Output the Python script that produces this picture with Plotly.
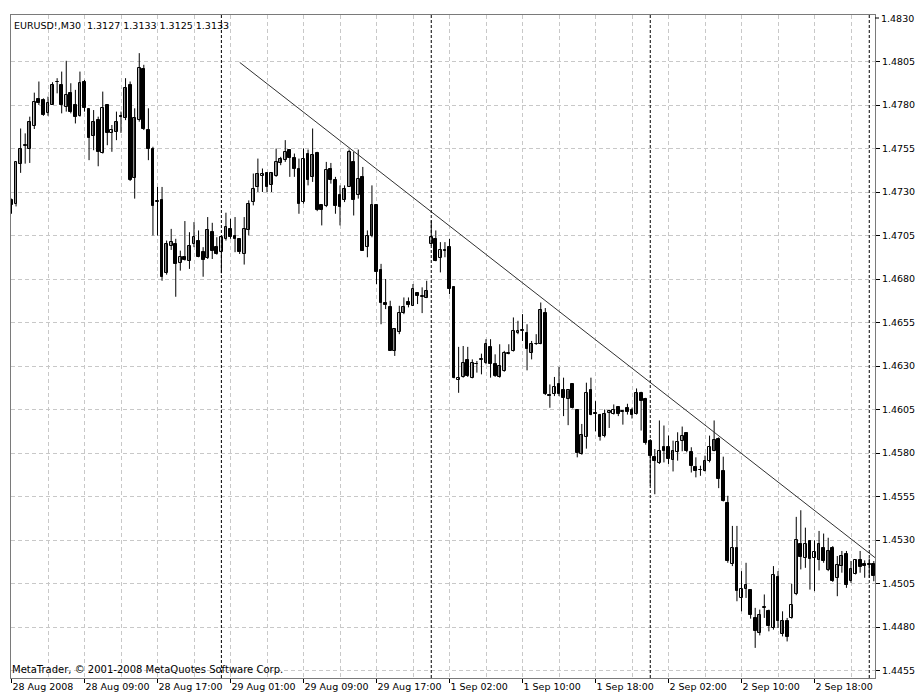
import plotly.graph_objects as go

# ---------------- data (EURUSD M30, bar index 0..189) ----------------
opens = [
    1.47252, 1.47229, 1.47463, 1.47565, 1.47550, 1.47679, 1.47833, 1.47829, 1.47752, 1.47800,
    1.47935, 1.47915, 1.47790, 1.47867, 1.47800, 1.47738, 1.47935, 1.47775, 1.47623, 1.47713,
    1.47525, 1.47800, 1.47637, 1.47646, 1.47737, 1.47723, 1.47915, 1.47383, 1.47713, 1.48006,
    1.47656, 1.47550, 1.47242, 1.47252, 1.46833, 1.46987, 1.47002, 1.46890, 1.46925, 1.46906,
    1.47002, 1.47021, 1.46954, 1.46921, 1.47069, 1.46983, 1.46954, 1.47031, 1.47088, 1.47050,
    1.47031, 1.46944, 1.47083, 1.47242, 1.47329, 1.47390, 1.47410, 1.47338, 1.47390, 1.47467,
    1.47483, 1.47544, 1.47498, 1.47435, 1.47242, 1.47521, 1.47387, 1.47525, 1.47223, 1.47217,
    1.47435, 1.47367, 1.47281, 1.47256, 1.47329, 1.47473, 1.47281, 1.47387, 1.46983, 1.47050,
    1.47223, 1.46852, 1.46660, 1.46640, 1.46387, 1.46498, 1.46602, 1.46665, 1.46646, 1.46717,
    1.46698, 1.46690, 1.47002, 1.47031, 1.46921, 1.46967, 1.46983, 1.46752, 1.46217, 1.46237,
    1.46333, 1.46233, 1.46310, 1.46333, 1.46319, 1.46410, 1.46310, 1.46237, 1.46271, 1.46367,
    1.46387, 1.46487, 1.46502, 1.46487, 1.46377, 1.46425, 1.46429, 1.46602, 1.46133, 1.46140,
    1.46198, 1.46160, 1.46108, 1.46194, 1.46046, 1.45794, 1.45890, 1.46160, 1.46031, 1.46021,
    1.45896, 1.46031, 1.46025, 1.46063, 1.46038, 1.46056, 1.46046, 1.46025, 1.46142, 1.46108,
    1.45871, 1.45775, 1.45740, 1.45833, 1.45833, 1.45760, 1.45804, 1.45871, 1.45913, 1.45804,
    1.45721, 1.45704, 1.45698, 1.45756, 1.45813, 1.45881, 1.45694, 1.45510, 1.45160, 1.45256,
    1.44967, 1.45021, 1.45010, 1.44852, 1.44765, 1.44911, 1.44894, 1.44794, 1.45087, 1.44760,
    1.44837, 1.44852, 1.44987, 1.45275, 1.45198, 1.45294, 1.45198, 1.45183, 1.45256, 1.45125,
    1.45256, 1.45079, 1.45150, 1.45221, 1.45063, 1.45106, 1.45183, 1.45160, 1.45163, 1.45160,
]
highs = [
    1.47262, 1.47473, 1.47665, 1.47637, 1.47733, 1.47871, 1.47935, 1.47838, 1.47848, 1.47931,
    1.47954, 1.47992, 1.48054, 1.47925, 1.47887, 1.47992, 1.47944, 1.47775, 1.47771, 1.47733,
    1.47877, 1.47800, 1.47685, 1.47762, 1.47762, 1.47954, 1.47935, 1.47781, 1.48098, 1.48031,
    1.47781, 1.47560, 1.47329, 1.47329, 1.47021, 1.47088, 1.47031, 1.46963, 1.47133, 1.47069,
    1.47127, 1.47079, 1.46983, 1.47156, 1.47123, 1.47040, 1.47050, 1.47181, 1.47146, 1.47156,
    1.47031, 1.47156, 1.47252, 1.47406, 1.47492, 1.47435, 1.47415, 1.47415, 1.47550, 1.47502,
    1.47598, 1.47544, 1.47521, 1.47492, 1.47550, 1.47544, 1.47665, 1.47531, 1.47223, 1.47473,
    1.47467, 1.47387, 1.47338, 1.47338, 1.47544, 1.47531, 1.47544, 1.47444, 1.47079, 1.47338,
    1.47223, 1.46887, 1.46800, 1.46675, 1.46512, 1.46646, 1.46694, 1.46694, 1.46771, 1.46723,
    1.46752, 1.46790, 1.47137, 1.47079, 1.47012, 1.47012, 1.47031, 1.46756, 1.46410, 1.46415,
    1.46410, 1.46338, 1.46329, 1.46371, 1.46454, 1.46454, 1.46367, 1.46425, 1.46387, 1.46425,
    1.46579, 1.46560, 1.46598, 1.46540, 1.46444, 1.46483, 1.46665, 1.46633, 1.46194, 1.46237,
    1.46294, 1.46233, 1.46160, 1.46194, 1.46046, 1.45967, 1.46204, 1.46233, 1.46098, 1.46025,
    1.46050, 1.46044, 1.46079, 1.46069, 1.46044, 1.46083, 1.46060, 1.46171, 1.46152, 1.46117,
    1.45880, 1.45823, 1.45987, 1.45958, 1.45900, 1.45871, 1.45919, 1.45952, 1.45919, 1.45833,
    1.45775, 1.45727, 1.45785, 1.45900, 1.45987, 1.45890, 1.45779, 1.45554, 1.45381, 1.45381,
    1.45121, 1.45169, 1.45015, 1.44910, 1.44900, 1.44987, 1.44900, 1.45150, 1.45121, 1.44890,
    1.44852, 1.45048, 1.45433, 1.45471, 1.45371, 1.45298, 1.45298, 1.45352, 1.45337, 1.45313,
    1.45265, 1.45208, 1.45237, 1.45237, 1.45179, 1.45188, 1.45237, 1.45183, 1.45194, 1.45179,
]
lows = [
    1.47175, 1.47217, 1.47410, 1.47463, 1.47467, 1.47662, 1.47800, 1.47738, 1.47738, 1.47800,
    1.47867, 1.47752, 1.47762, 1.47752, 1.47694, 1.47733, 1.47762, 1.47483, 1.47540, 1.47448,
    1.47521, 1.47569, 1.47531, 1.47598, 1.47640, 1.47713, 1.47363, 1.47262, 1.47704, 1.47656,
    1.47483, 1.47050, 1.47050, 1.46790, 1.46825, 1.46967, 1.46698, 1.46848, 1.46906, 1.46858,
    1.46983, 1.46925, 1.46813, 1.46915, 1.46915, 1.46940, 1.46833, 1.47021, 1.47031, 1.46954,
    1.46944, 1.46883, 1.47050, 1.47223, 1.47300, 1.47300, 1.47300, 1.47300, 1.47387, 1.47454,
    1.47473, 1.47387, 1.47387, 1.47175, 1.47233, 1.47338, 1.47358, 1.47190, 1.47108, 1.47213,
    1.47348, 1.47175, 1.47108, 1.47242, 1.47329, 1.47165, 1.47262, 1.46963, 1.46925, 1.47040,
    1.46771, 1.46540, 1.46627, 1.46387, 1.46358, 1.46483, 1.46598, 1.46637, 1.46646, 1.46656,
    1.46604, 1.46690, 1.46992, 1.46902, 1.46838, 1.46925, 1.46713, 1.46229, 1.46146, 1.46233,
    1.46237, 1.46229, 1.46262, 1.46252, 1.46310, 1.46233, 1.46237, 1.46233, 1.46267, 1.46367,
    1.46383, 1.46483, 1.46444, 1.46275, 1.46338, 1.46421, 1.46425, 1.46133, 1.46060, 1.46127,
    1.46127, 1.46012, 1.45960, 1.46056, 1.45775, 1.45790, 1.45825, 1.46017, 1.45925, 1.45871,
    1.45890, 1.45944, 1.46021, 1.46012, 1.45963, 1.46021, 1.45998, 1.46021, 1.45929, 1.45848,
    1.45612, 1.45563, 1.45737, 1.45746, 1.45737, 1.45694, 1.45756, 1.45810, 1.45804, 1.45688,
    1.45660, 1.45669, 1.45694, 1.45746, 1.45810, 1.45598, 1.45521, 1.45169, 1.45150, 1.44948,
    1.44890, 1.44967, 1.44848, 1.44680, 1.44752, 1.44852, 1.44775, 1.44785, 1.44794, 1.44746,
    1.44717, 1.44848, 1.44983, 1.45131, 1.45140, 1.45015, 1.45006, 1.45125, 1.45169, 1.45121,
    1.45059, 1.44977, 1.45112, 1.45025, 1.45054, 1.45102, 1.45112, 1.45083, 1.45083, 1.45063,
]
closes = [
    1.47223, 1.47473, 1.47550, 1.47569, 1.47704, 1.47819, 1.47810, 1.47742, 1.47813, 1.47915,
    1.47931, 1.47800, 1.47858, 1.47758, 1.47733, 1.47925, 1.47781, 1.47613, 1.47704, 1.47531,
    1.47781, 1.47640, 1.47656, 1.47704, 1.47733, 1.47896, 1.47367, 1.47723, 1.48012, 1.47662,
    1.47550, 1.47217, 1.47248, 1.46813, 1.47002, 1.47010, 1.46887, 1.46929, 1.46910, 1.46988,
    1.47040, 1.46929, 1.46910, 1.47079, 1.46963, 1.46944, 1.47040, 1.47098, 1.47040, 1.47031,
    1.46954, 1.47088, 1.47233, 1.47319, 1.47406, 1.47406, 1.47329, 1.47410, 1.47473, 1.47492,
    1.47531, 1.47498, 1.47435, 1.47233, 1.47487, 1.47367, 1.47512, 1.47194, 1.47194, 1.47425,
    1.47367, 1.47217, 1.47213, 1.47319, 1.47531, 1.47252, 1.47377, 1.46963, 1.47050, 1.47223,
    1.46838, 1.46660, 1.46652, 1.46387, 1.46512, 1.46602, 1.46640, 1.46652, 1.46742, 1.46704,
    1.46704, 1.46733, 1.47044, 1.46906, 1.46967, 1.46963, 1.46742, 1.46233, 1.46233, 1.46319,
    1.46242, 1.46319, 1.46313, 1.46338, 1.46425, 1.46310, 1.46242, 1.46300, 1.46377, 1.46377,
    1.46502, 1.46502, 1.46506, 1.46396, 1.46425, 1.46429, 1.46621, 1.46140, 1.46127, 1.46179,
    1.46140, 1.46117, 1.46160, 1.46060, 1.45800, 1.45906, 1.46146, 1.46021, 1.46027, 1.45890,
    1.46025, 1.46040, 1.46046, 1.46025, 1.46042, 1.46037, 1.46021, 1.46146, 1.46098, 1.45858,
    1.45785, 1.45756, 1.45813, 1.45813, 1.45765, 1.45813, 1.45862, 1.45900, 1.45813, 1.45727,
    1.45698, 1.45700, 1.45756, 1.45833, 1.45875, 1.45650, 1.45525, 1.45179, 1.45256, 1.45006,
    1.45021, 1.45044, 1.44871, 1.44775, 1.44871, 1.44915, 1.44804, 1.45098, 1.44833, 1.44837,
    1.44740, 1.44929, 1.45298, 1.45202, 1.45279, 1.45188, 1.45231, 1.45275, 1.45179, 1.45237,
    1.45063, 1.45156, 1.45208, 1.45040, 1.45131, 1.45183, 1.45144, 1.45150, 1.45156, 1.45092,
]
# candle body tone: w = white bull, g = gray bull, b = black bear
tones = list(
    "bwgwgwbbwg" "bbwbbwbbgb" "wbwgbgbgwb" "bbwbgwbwbg" "wbbgbbwwbb"
    "bwgwgwbgwg" "wbbbwbgbbw" "bbbgwbwbwg" "bbbbgwgbwb" "wgwbwbbbww"
    "bwwwgbbgww" "wwwbgwgbbw" "bbgbbgwbbb" "gwwbwbbgbb" "bbwbbgwwbb"
    "bbgwgbbbwb" "wgbbgwbwbg" "bwwbwbwgbg" "bwgbgwbbbb"
)

# time axis labels (every 16 bars) and day separators (bar index)
label_idx = [0, 16, 32, 48, 64, 80, 96, 112, 128, 144, 160, 176]
label_text = ["28 Aug 2008", "28 Aug 09:00", "28 Aug 17:00", "29 Aug 01:00",
              "29 Aug 09:00", "29 Aug 17:00", "1 Sep 02:00", "1 Sep 10:00",
              "1 Sep 18:00", "2 Sep 02:00", "2 Sep 10:00", "2 Sep 18:00"]
grid_idx_minor = [8, 24, 40, 56, 72, 88, 104, 120, 136, 152, 168, 184]
day_breaks = [46, 92, 140, 188]

price_ticks = [1.4455, 1.4480, 1.4505, 1.4530, 1.4555, 1.4580, 1.4605, 1.4630,
               1.4655, 1.4680, 1.4705, 1.4730, 1.4755, 1.4780, 1.4805]
top_price_label = 1.4830

# trend line drawn on chart (bar index, price)
trend_x = [50.0, 189.3]
trend_y = [1.48045, 1.45198]

header = "EURUSD!,M30\u00a0\u00a01.3127 1.3133 1.3125 1.3133"
copyright_txt = "MetaTrader, \u00a9 2001-2008 MetaQuotes Software Corp."

# ---------------- figure ----------------
n = len(opens)
idx = list(range(n))
FONT = "DejaVu Sans"
FS = 9.5
GRID = "#c8c8c8"
FRAME = "#7a7a7a"

fig = go.Figure()

# wicks
wx, wy = [], []
for i in idx:
    wx += [i, i, None]
    wy += [lows[i], highs[i], None]
fig.add_trace(go.Scatter(x=wx, y=wy, mode="lines",
                         line=dict(color="black", width=1),
                         hoverinfo="skip", showlegend=False))

fills = {"w": "#ffffff", "g": "#8c8c8c", "b": "#000000"}
for tone, col in fills.items():
    sel = [i for i in idx if tones[i] == tone]
    fig.add_trace(go.Bar(
        x=sel,
        base=[min(opens[i], closes[i]) for i in sel],
        y=[abs(closes[i] - opens[i]) for i in sel],
        width=0.62,
        marker=dict(color=col, line=dict(color="black", width=1)),
        hoverinfo="skip", showlegend=False))

# trend line
fig.add_trace(go.Scatter(x=trend_x, y=trend_y, mode="lines",
                         line=dict(color="#303030", width=1),
                         hoverinfo="skip", showlegend=False))

# day separators
for d in day_breaks:
    fig.add_shape(type="line", xref="x", yref="paper", x0=d, x1=d, y0=0, y1=1,
                  line=dict(color="black", width=1, dash="3px,2px"), layer="above")

y_lo = 1.4805 - (678 - 61.5) / 17400
y_hi = 1.4805 + (61.5 - 15) / 17400

fig.update_layout(
    width=920, height=697,
    margin=dict(l=11, r=45, t=15, b=19, autoexpand=False),
    paper_bgcolor="white", plot_bgcolor="white",
    barmode="overlay", bargap=0,
    font=dict(family=FONT, size=FS, color="black"),
    showlegend=False,
    xaxis=dict(
        range=[-0.11, 189.26], showline=True, mirror=True, automargin=False,
        linecolor=FRAME, linewidth=1, zeroline=False,
        tickmode="array", tickvals=label_idx, ticktext=label_text,
        tickangle=0,
        ticks="outside", ticklen=4, tickcolor="black", tickwidth=1,
        ticklabelposition="outside right",
        tickfont=dict(family=FONT, size=FS, color="black"),
        showgrid=True, gridcolor=GRID, griddash="4px,3px", gridwidth=1,
        minor=dict(tickmode="array", tickvals=grid_idx_minor, showgrid=True,
                   gridcolor=GRID, griddash="4px,3px", gridwidth=1, ticks=""),
    ),
    yaxis=dict(
        range=[y_lo, y_hi], side="right", showline=True, mirror=True,
        automargin=False,
        linecolor=FRAME, linewidth=1, zeroline=False,
        tickmode="array", tickvals=price_ticks,
        ticktext=[f"{p:.4f}" for p in price_ticks],
        ticks="outside", ticklen=4, tickcolor="black", tickwidth=1,
        tickfont=dict(family=FONT, size=FS, color="black"),
        showgrid=True, gridcolor=GRID, griddash="4px,3px", gridwidth=1,
    ),
)

# top price label (at the frame edge) with its tick
fig.add_shape(type="line", xref="paper", yref="y", x0=1.0, x1=1.0 + 4 / 864,
              y0=top_price_label, y1=top_price_label,
              line=dict(color="black", width=1))
fig.add_annotation(x=1.0, xref="paper", y=top_price_label, yref="y",
                   text=f"{top_price_label:.4f}", showarrow=False,
                   xanchor="left", yanchor="middle", xshift=4,
                   font=dict(family=FONT, size=FS, color="black"))

fig.add_annotation(x=0.0, xref="paper", y=1, yref="paper", text=header,
                   showarrow=False, xanchor="left", yanchor="top",
                   xshift=1, yshift=-3,
                   font=dict(family=FONT, size=FS, color="black"))
fig.add_annotation(x=0.0, xref="paper", y=0, yref="paper", text=copyright_txt,
                   showarrow=False, xanchor="left", yanchor="bottom",
                   xshift=-1, yshift=1,
                   font=dict(family=FONT, size=10, color="black"))

fig.write_html("out.html")
